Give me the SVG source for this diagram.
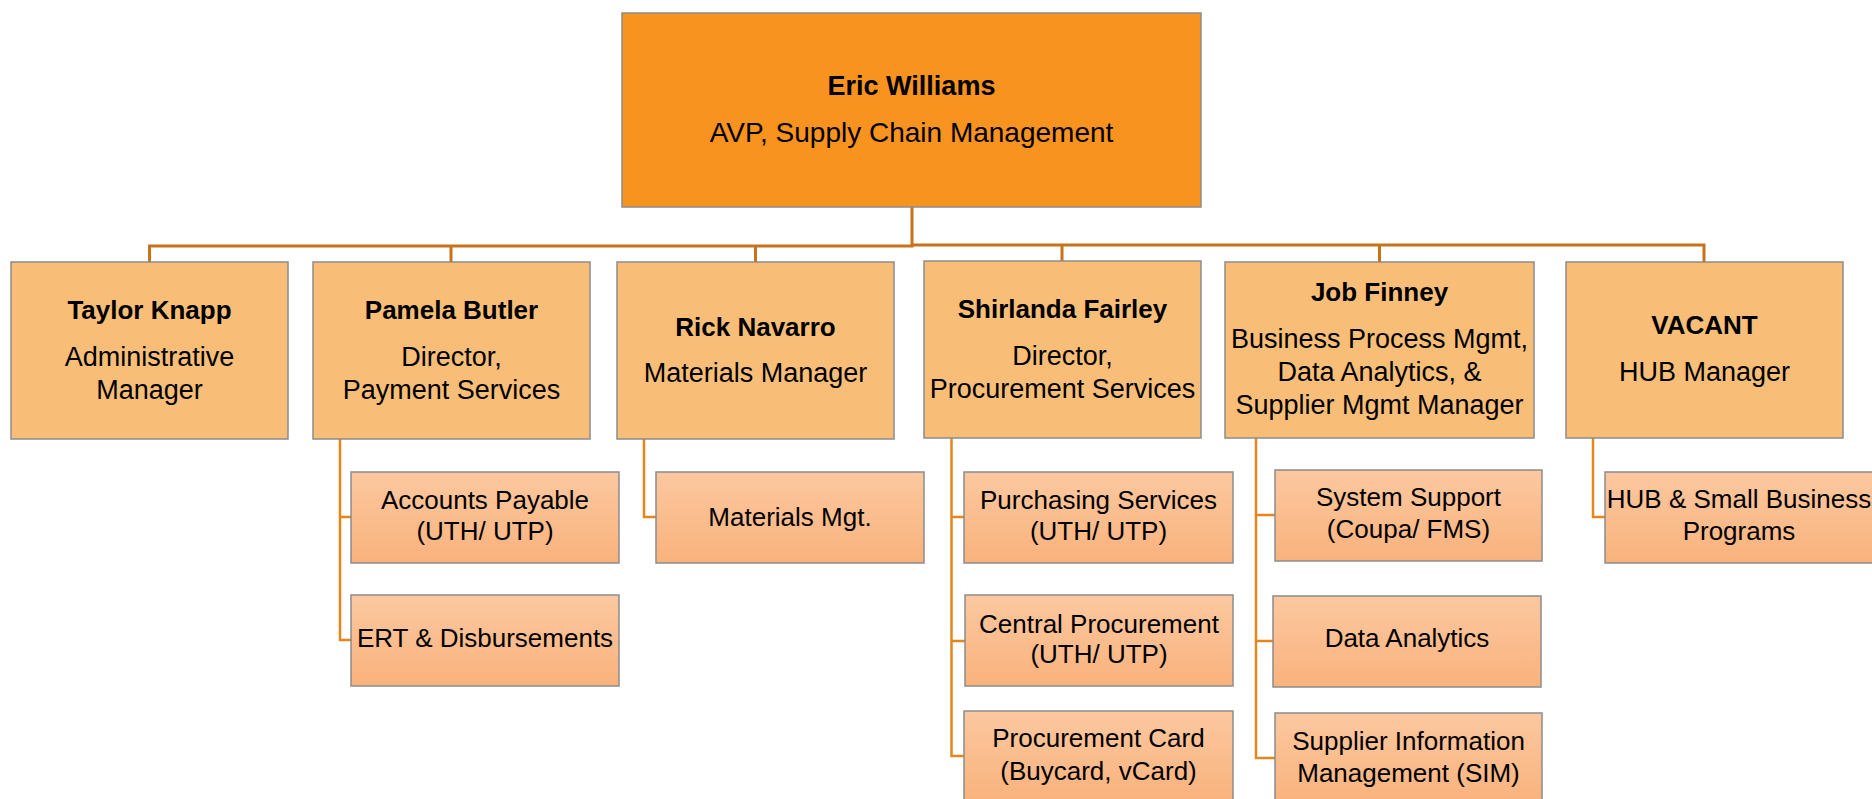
<svg xmlns="http://www.w3.org/2000/svg" width="1872" height="799" viewBox="0 0 1872 799">
<defs>
<linearGradient id="childGrad" x1="0" y1="0" x2="0" y2="1">
<stop offset="0" stop-color="#FCC8A0"/>
<stop offset="1" stop-color="#F9B27C"/>
</linearGradient>
<style>
.top{fill:#F7931E;stroke:#8C8C8C;stroke-width:1.5}
.lvl2{fill:#F8BE78;stroke:#8C8C8C;stroke-width:1.5}
.child{fill:url(#childGrad);stroke:#8C8C8C;stroke-width:1.5}
.main{fill:none;stroke:#C8731A;stroke-width:3}
.sub{fill:none;stroke:#E3861C;stroke-width:2.5}
text{font-family:"Liberation Sans",Arial,sans-serif;fill:#000;text-anchor:middle}
.b{font-weight:bold;font-size:26px}
.n{font-size:27px}
.c{font-size:26px}
</style>
</defs>
<rect width="1872" height="799" fill="#FFFFFF"/>
<g id="connectors">
<path class="main" d="M912,207 V246 H149.5 V262"/>
<path class="main" d="M451,246 V262"/>
<path class="main" d="M755.5,246 V262"/>
<path class="main" d="M912,245 H1704 V262"/>
<path class="main" d="M1062,245 V261"/>
<path class="main" d="M1379.5,245 V262"/>
<path class="sub" d="M340,439 V640 H351 M340,517 H351"/>
<path class="sub" d="M644,439 V517 H656"/>
<path class="sub" d="M951.5,438 V756 H964 M951.5,517 H964 M951.5,641 H965"/>
<path class="sub" d="M1256,438 V758 H1275 M1256,515 H1275 M1256,641 H1273"/>
<path class="sub" d="M1593,438 V517 H1605"/>
</g>
<g id="eric-williams">
<rect class="top" x="622" y="13" width="579" height="194"/>
<text x="911.5" y="95" style="font-weight:bold;font-size:27px">Eric Williams</text>
<text x="911.5" y="142" style="font-size:28px">AVP, Supply Chain Management</text>
</g>
<g id="taylor-knapp">
<rect class="lvl2" x="11" y="262" width="277" height="177"/>
<text class="b" x="149.5" y="318.5">Taylor Knapp</text>
<text class="n" x="149.5" y="365.5">Administrative</text>
<text class="n" x="149.5" y="399">Manager</text>
</g>
<g id="pamela-butler">
<rect class="lvl2" x="313" y="262" width="277" height="177"/>
<text class="b" x="451.5" y="318.5">Pamela Butler</text>
<text class="n" x="451.5" y="365.5">Director,</text>
<text class="n" x="451.5" y="399">Payment Services</text>
</g>
<g id="rick-navarro">
<rect class="lvl2" x="617" y="262" width="277" height="177"/>
<text class="b" x="755.5" y="336">Rick Navarro</text>
<text class="n" x="755.5" y="381.5">Materials Manager</text>
</g>
<g id="shirlanda-fairley">
<rect class="lvl2" x="924" y="261" width="277" height="177"/>
<text class="b" x="1062.5" y="317.5">Shirlanda Fairley</text>
<text class="n" x="1062.5" y="365">Director,</text>
<text class="n" x="1062.5" y="397.5">Procurement Services</text>
</g>
<g id="job-finney">
<rect class="lvl2" x="1225" y="262" width="309" height="176"/>
<text class="b" x="1379.5" y="300.5">Job Finney</text>
<text class="n" x="1379.5" y="347.5">Business Process Mgmt,</text>
<text class="n" x="1379.5" y="380.5">Data Analytics, &amp;</text>
<text class="n" x="1379.5" y="414">Supplier Mgmt Manager</text>
</g>
<g id="vacant">
<rect class="lvl2" x="1566" y="262" width="277" height="176"/>
<text class="b" x="1704.5" y="334">VACANT</text>
<text class="n" x="1704.5" y="380.5">HUB Manager</text>
</g>
<g id="accounts-payable">
<rect class="child" x="351" y="472" width="268" height="91"/>
<text class="c" x="485" y="509">Accounts Payable</text>
<text class="c" x="485" y="540">(UTH/ UTP)</text>
</g>
<g id="ert-disbursements">
<rect class="child" x="351" y="595" width="268" height="91"/>
<text class="c" x="485" y="647">ERT &amp; Disbursements</text>
</g>
<g id="materials-mgt">
<rect class="child" x="656" y="472" width="268" height="91"/>
<text class="c" x="790" y="526">Materials Mgt.</text>
</g>
<g id="purchasing-services">
<rect class="child" x="964" y="472" width="269" height="91"/>
<text class="c" x="1098.5" y="509">Purchasing Services</text>
<text class="c" x="1098.5" y="540">(UTH/ UTP)</text>
</g>
<g id="central-procurement">
<rect class="child" x="965" y="595" width="268" height="91"/>
<text class="c" x="1099" y="633">Central Procurement</text>
<text class="c" x="1099" y="663">(UTH/ UTP)</text>
</g>
<g id="procurement-card">
<rect class="child" x="964" y="711" width="269" height="91"/>
<text class="c" x="1098.5" y="747">Procurement Card</text>
<text class="c" x="1098.5" y="780">(Buycard, vCard)</text>
</g>
<g id="system-support">
<rect class="child" x="1275" y="470" width="267" height="91"/>
<text class="c" x="1408.5" y="506">System Support</text>
<text class="c" x="1408.5" y="538">(Coupa/ FMS)</text>
</g>
<g id="data-analytics">
<rect class="child" x="1273" y="596" width="268" height="91"/>
<text class="c" x="1407" y="647">Data Analytics</text>
</g>
<g id="supplier-information-management">
<rect class="child" x="1275" y="713" width="267" height="91"/>
<text class="c" x="1408.5" y="750">Supplier Information</text>
<text class="c" x="1408.5" y="782">Management (SIM)</text>
</g>
<g id="hub-small-business">
<rect class="child" x="1605" y="472" width="268" height="91"/>
<text class="c" x="1739" y="508">HUB &amp; Small Business</text>
<text class="c" x="1739" y="540">Programs</text>
</g>
</svg>
